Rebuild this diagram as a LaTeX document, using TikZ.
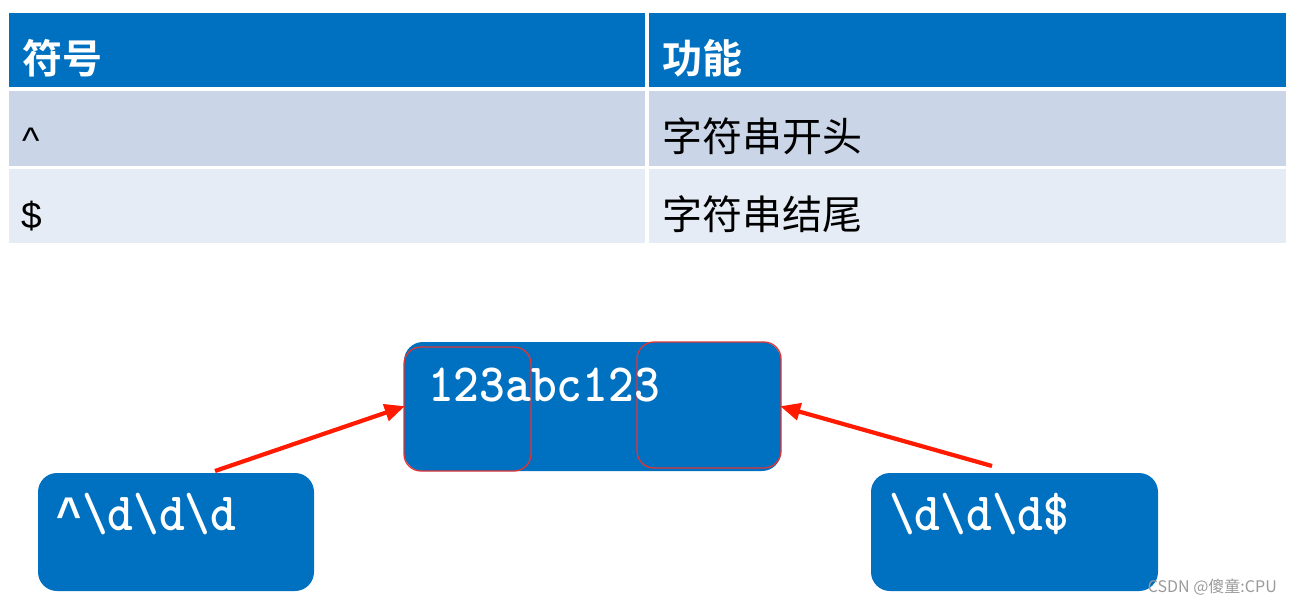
\documentclass[tikz,border=0pt]{standalone}
\usepackage{fontspec}
\newfontfamily\cjk{Noto Sans CJK SC}
\newfontfamily\cjkb{Noto Sans CJK SC Bold}
\newfontfamily\arial{Liberation Sans}
\newfontfamily\lmono{Liberation Mono}
\usetikzlibrary{arrows.meta}
\definecolor{hblue}{HTML}{0070C0}
\definecolor{rowa}{HTML}{CBD5E8}
\definecolor{rowb}{HTML}{E6ECF5}
\definecolor{arred}{HTML}{FF1A00}
\definecolor{boxred}{HTML}{E03535}
\definecolor{wm}{HTML}{9A9A9A}
\tikzset{
  cell/.style={draw=none, inner sep=0pt, minimum height=74pt},
  hdrtext/.style={anchor=west, inner sep=0pt, text=white, font=\cjkb\fontsize{40}{40}\selectfont},
  celltext/.style={anchor=west, inner sep=0pt, text=black, font=\cjk\fontsize{40}{40}\selectfont},
  symtext/.style={anchor=base west, inner sep=0pt, text=black, font=\arial\fontsize{37}{37}\selectfont},
  bluebox/.style={fill=hblue, rounded corners=19pt, inner sep=0pt},
  redbox/.style={draw=boxred, line width=1.3pt, rounded corners=17pt, inner sep=0pt},
  codetext/.style={anchor=base west, inner sep=0pt, text=white, font=\ttfamily\bfseries\fontsize{49}{49}\selectfont},
  redarrow/.style={draw=arred, line width=4.2pt, -{Triangle[length=20pt,width=17pt]}, shorten >=-1pt},
}
\newcommand{\bigcaret}{{\lmono\bfseries\fontsize{43}{43}\selectfont\^{}}}
\begin{document}
\begin{tikzpicture}[x=1pt,y=-1pt]
\useasboundingbox (0,0) rectangle (1291,605);
% table
\node[cell, fill=hblue, minimum width=636pt] (h1) at (327,50) {};
\node[cell, fill=hblue, minimum width=637pt] (h2) at (967.5,50) {};
\node[cell, fill=rowa, minimum width=636pt, minimum height=75pt] (a1) at (327,128.5) {};
\node[cell, fill=rowa, minimum width=637pt, minimum height=75pt] (a2) at (967.5,128.5) {};
\node[cell, fill=rowb, minimum width=636pt] (b1) at (327,206) {};
\node[cell, fill=rowb, minimum width=637pt] (b2) at (967.5,206) {};
\node[hdrtext] (t1) at (22,58) {符号};
\node[hdrtext] (t2) at (662,58) {功能};
\node[symtext] (s1) at (22,153) {\textasciicircum};
\node[celltext] (c1) at (662,136) {字符串开头};
\node[symtext] (s2) at (21,228) {\$};
\node[celltext] (c2) at (662,214) {字符串结尾};
% boxes
\node[bluebox, minimum width=377pt, minimum height=129pt] (main) at (592.5,406.5) {};
\node[bluebox, minimum width=276pt, minimum height=118pt] (lbox) at (176,532) {};
\node[bluebox, minimum width=287pt, minimum height=118pt] (rbox) at (1014.5,532) {};
\node[redbox, minimum width=127pt, minimum height=124pt] (rl) at (467.5,409) {};
\node[redbox, minimum width=144pt, minimum height=126pt] (rr) at (709,405) {};
\node[codetext] (m) at (428,401) {\scalebox{1}[1.1]{123abc123}};
\node[codetext] (l) at (56,530) {\scalebox{1}[1.1]{\bigcaret\textbackslash d\textbackslash d\textbackslash d}};
\node[codetext] (r) at (889,530) {\scalebox{1}[1.1]{\textbackslash d\textbackslash d\textbackslash d\$}};
% arrows
\coordinate (ls) at (215,471);
\coordinate (rs) at (992,466);
\draw[redarrow] (ls) -- (main.west);
\draw[redarrow] (rs) -- (main.east);
% watermark
\node[anchor=east, inner sep=0pt, text=wm, font=\cjk\fontsize{16}{16}\selectfont] (w) at (1277,587) {CSDN @傻童:CPU};
\end{tikzpicture}
\end{document}
